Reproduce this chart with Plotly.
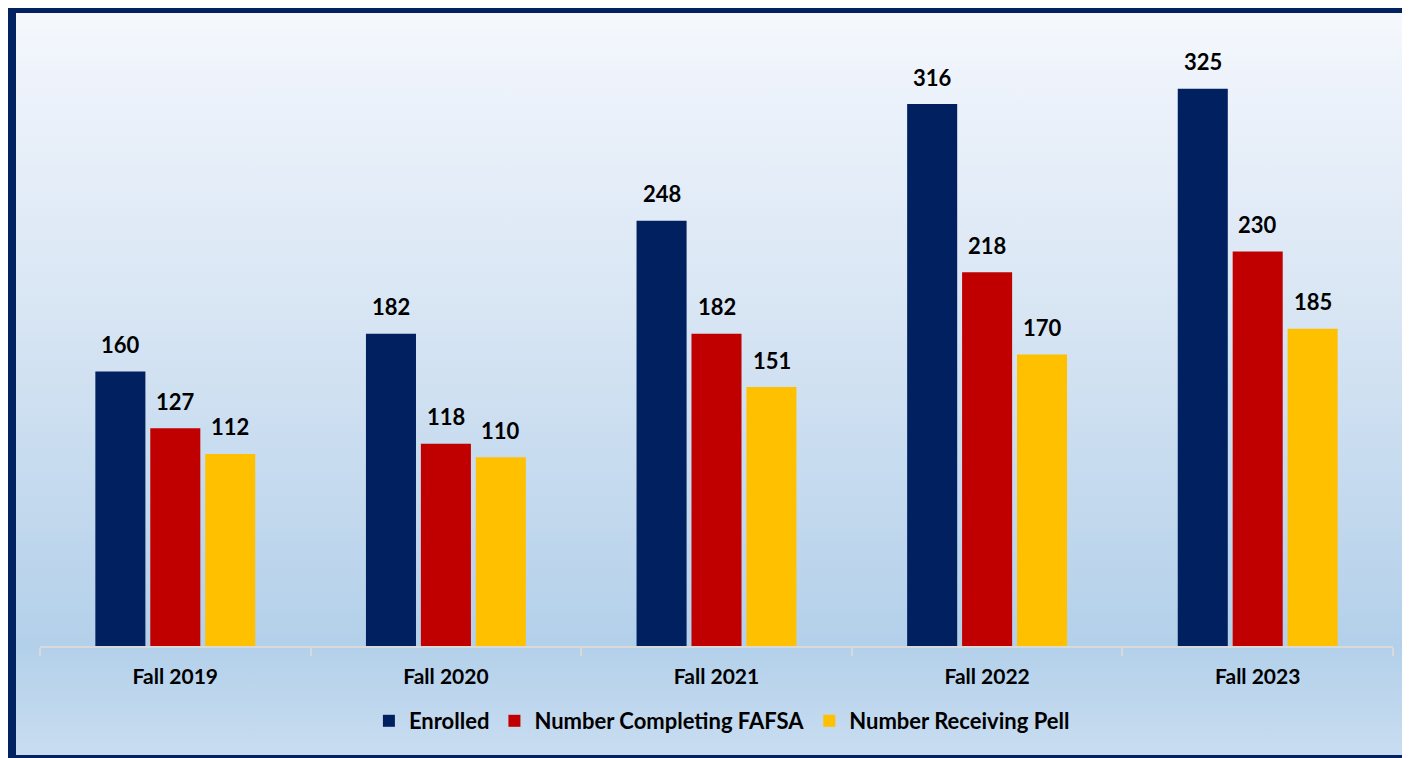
import base64
import plotly.graph_objects as go

categories = ["Fall 2019", "Fall 2020", "Fall 2021", "Fall 2022", "Fall 2023"]
enrolled = [160, 182, 248, 316, 325]
fafsa = [127, 118, 182, 218, 230]
pell = [112, 110, 151, 170, 185]
series_names = ["Enrolled", "Number Completing FAFSA", "Number Receiving Pell"]
series_colors = ["#002060", "#C00000", "#FFC000"]

# figure sized to fit the 1410x758 window inside the page's 8px body margin
W, H = 1402, 750
L, R, T, B = 32, 17, 4, 112
PW, PH = W - L - R, H - T - B
PX_PER_UNIT = 1.715
YMAX = PH / PX_PER_UNIT

FONT = "Lato"
NAVY = "#022261"


def px_x(px):
    return (px - L) / PW


def px_y(py):
    return (H - B - py) / PH


svg = f"""<svg xmlns='http://www.w3.org/2000/svg' width='100' height='{H}' viewBox='0 0 100 {H}' preserveAspectRatio='none'>
<defs><linearGradient id='g' x1='0' y1='0' x2='0' y2='1'>
<stop offset='0' stop-color='#f6f9fd'/>
<stop offset='0.09' stop-color='#eef3fb'/>
<stop offset='0.39' stop-color='#d9e6f4'/>
<stop offset='0.66' stop-color='#c3d9ee'/>
<stop offset='0.85' stop-color='#b3d0ea'/>
<stop offset='1' stop-color='#c9ddf1'/>
</linearGradient></defs>
<rect x='0' y='0' width='100' height='{H}' fill='url(#g)'/>
</svg>"""
src = "data:image/svg+xml;base64," + base64.b64encode(svg.encode()).decode()

fig = go.Figure()
for name, vals, col in zip(series_names, [enrolled, fafsa, pell], series_colors):
    fig.add_trace(go.Bar(x=categories, y=vals, name=name,
                         marker=dict(color=col, line=dict(width=0))))

annotations = []
for k, vals in enumerate([enrolled, fafsa, pell]):
    for c, v in zip(categories, vals):
        annotations.append(dict(x=c, y=v, xref="x", yref="y", text=str(v), showarrow=False,
                                xshift=(k - 1) * 55, yshift=27, yanchor="middle",
                                font=dict(family=FONT, size=22, color="#000000", weight="bold")))

frame = [
    dict(type="rect", xref="paper", yref="paper", x0=px_x(0), x1=px_x(W), y0=px_y(0), y1=px_y(5),
         fillcolor=NAVY, line=dict(width=0), layer="below"),
    dict(type="rect", xref="paper", yref="paper", x0=px_x(0), x1=px_x(8), y0=px_y(0), y1=px_y(H),
         fillcolor=NAVY, line=dict(width=0), layer="below"),
    dict(type="rect", xref="paper", yref="paper", x0=px_x(0), x1=px_x(W), y0=px_y(747), y1=px_y(H),
         fillcolor=NAVY, line=dict(width=0), layer="below"),
]

fig.update_layout(
    width=W, height=H,
    margin=dict(l=L, r=R, t=T, b=B, pad=0),
    paper_bgcolor="#d5e4f3", plot_bgcolor="rgba(0,0,0,0)",
    barmode="group", bargap=0.391, bargroupgap=0.089,
    showlegend=True,
    legend=dict(orientation="h", x=0.504, xanchor="center", y=px_y(713), yanchor="middle",
                bgcolor="rgba(0,0,0,0)", font=dict(family=FONT, size=22, color="#000000", weight="bold"),
                itemclick=False),
    annotations=annotations,
    shapes=frame,
    images=[dict(source=src, xref="paper", yref="paper", x=px_x(0), y=px_y(0),
                 sizex=W / PW, sizey=H / PH, xanchor="left", yanchor="top",
                 sizing="stretch", layer="below")],
    xaxis=dict(type="category", range=[-0.5, 4.5], showline=True, linecolor="#d9d9d9", linewidth=2,
               ticks="outside", tickson="boundaries", ticklen=8, tickwidth=2, tickcolor="#d9d9d9",
               showgrid=False, zeroline=False, ticklabelstandoff=11,
               tickfont=dict(family=FONT, size=21, color="#000000", weight="bold")),
    yaxis=dict(range=[0, YMAX], visible=False, showgrid=False, zeroline=False),
)

fig.write_html("out.html")
